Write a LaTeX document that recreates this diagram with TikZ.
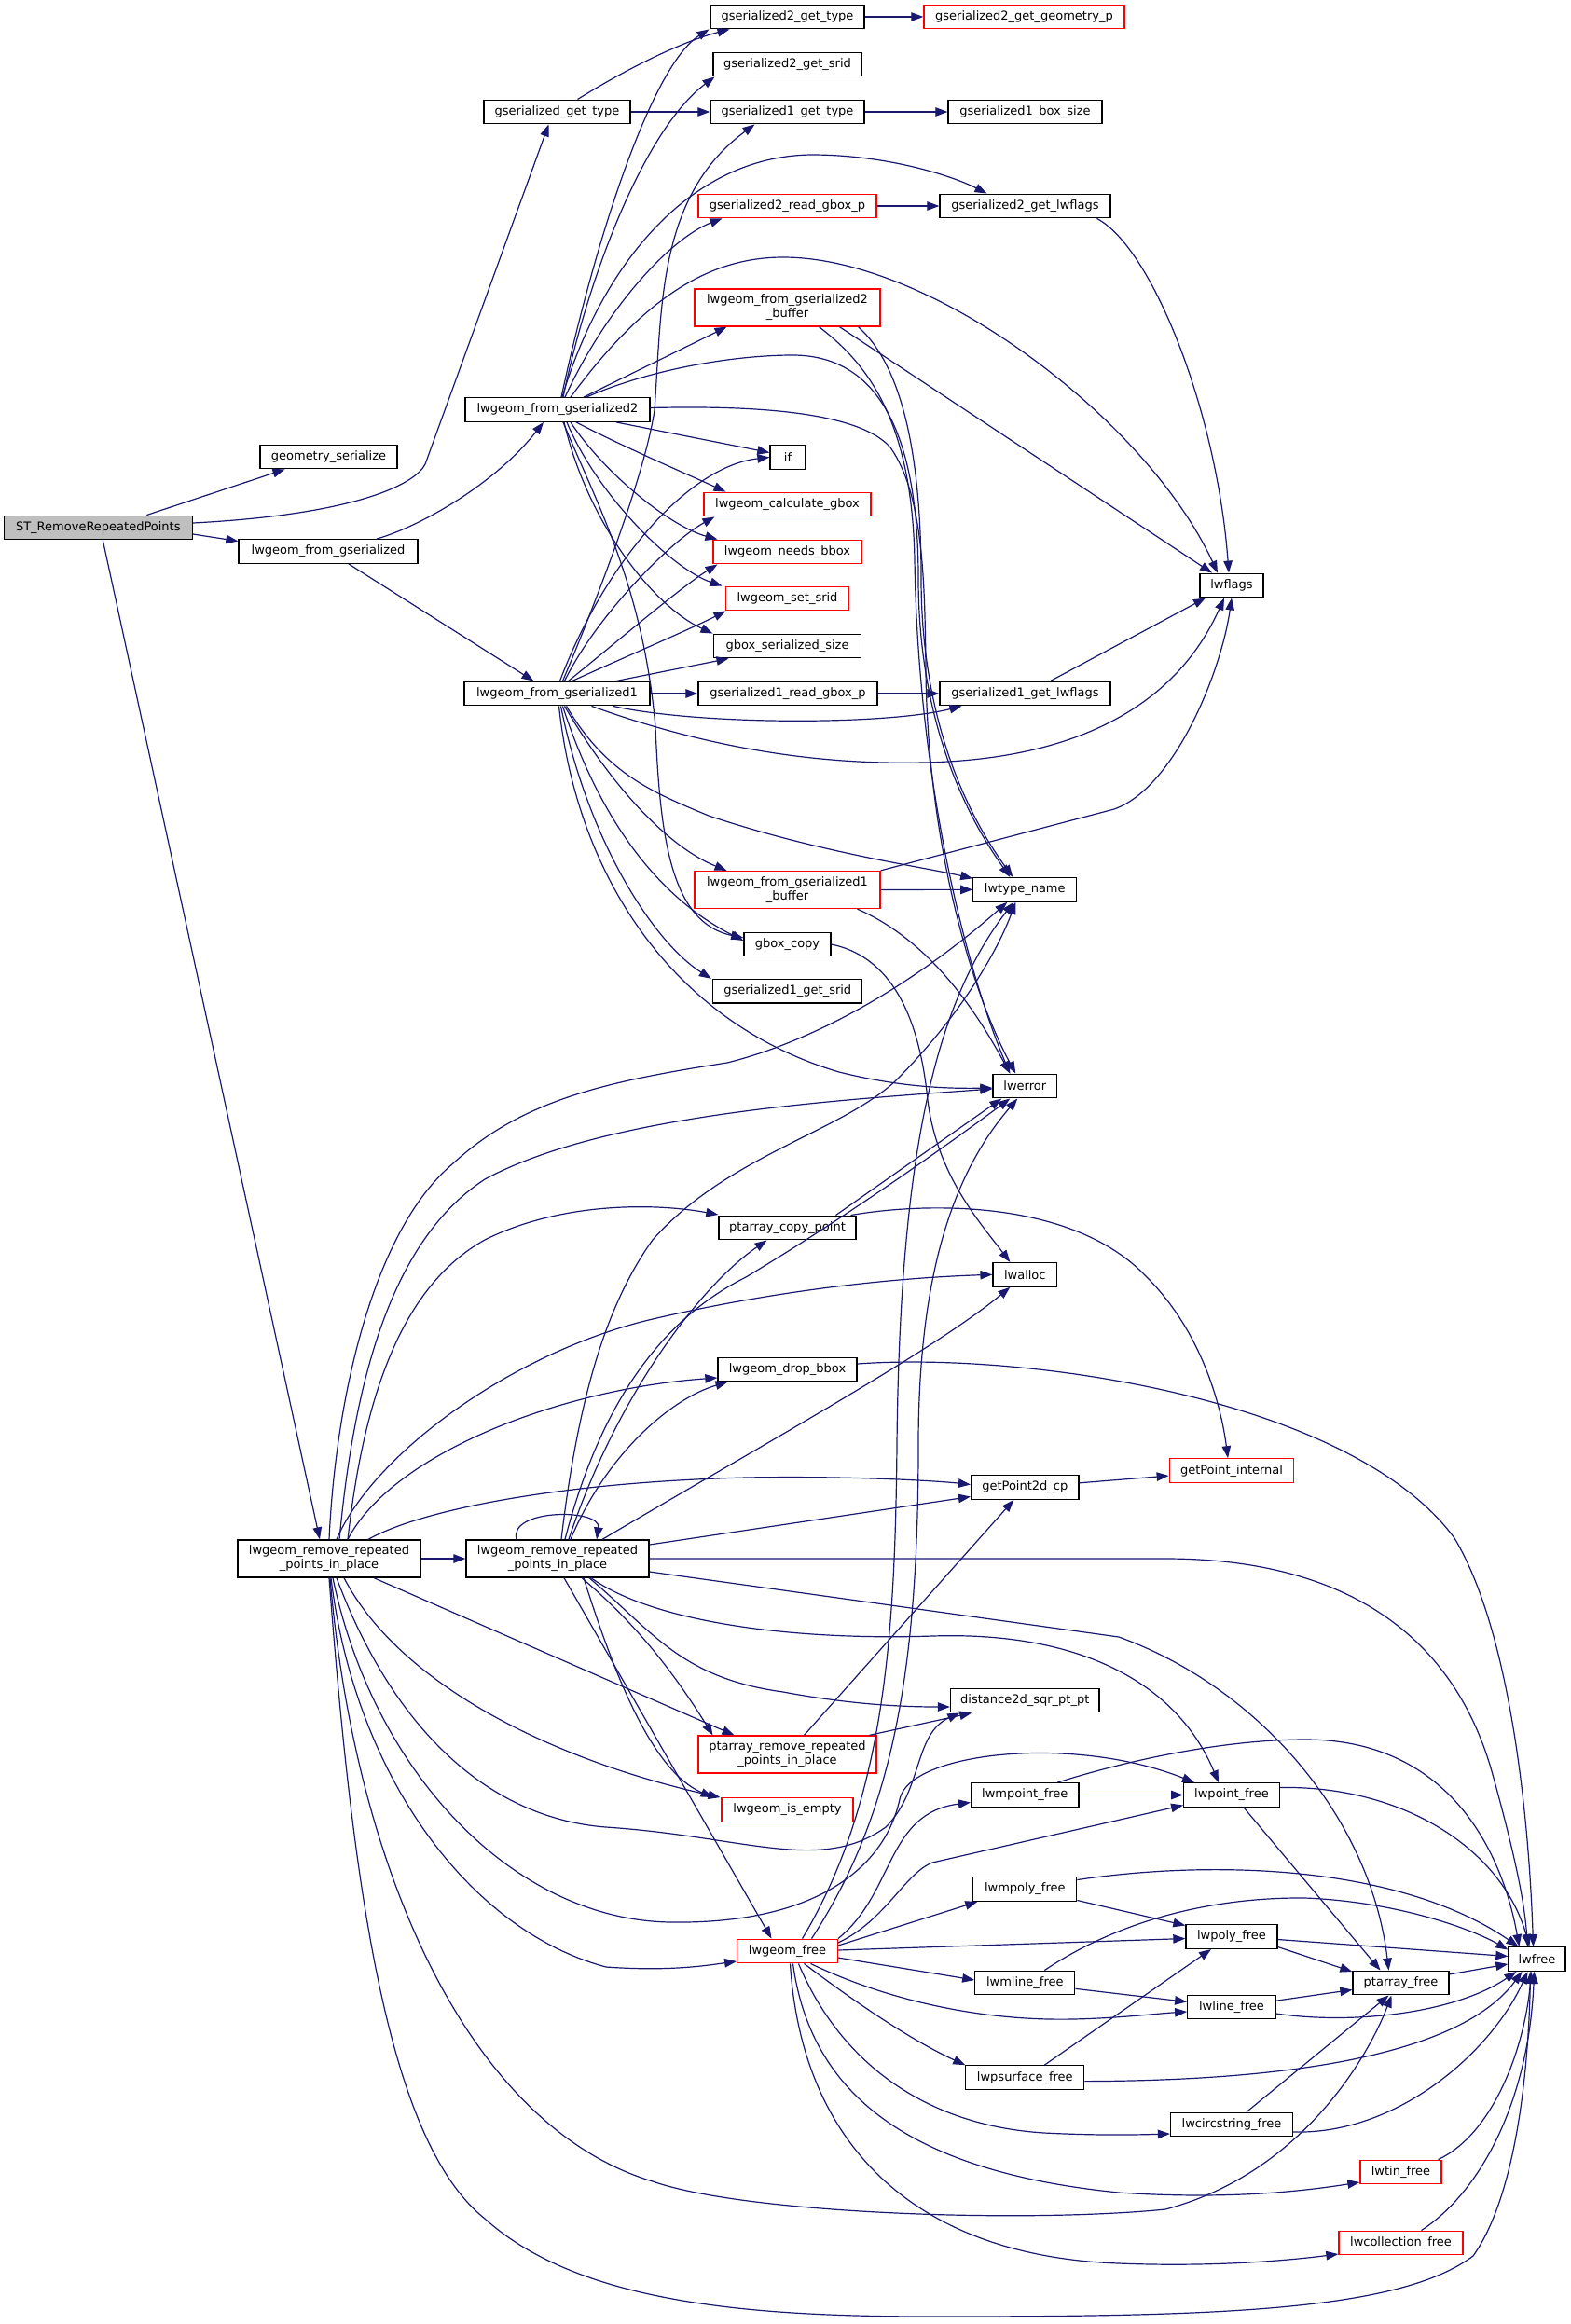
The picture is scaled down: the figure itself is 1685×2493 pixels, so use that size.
\documentclass[tikz,border=0pt]{standalone}
\usepackage{fontspec}
\setmainfont{DejaVu Sans}
\usetikzlibrary{arrows.meta}
\definecolor{edgeblue}{HTML}{191970}
\definecolor{stgray}{HTML}{BFBFBF}
\begin{document}
\begin{tikzpicture}[x=1pt,y=-1pt,
  nd/.style={draw=black,line width=1.3pt,fill=white,inner sep=0pt,minimum height=25.6pt,font=\fontsize{13}{15}\selectfont,align=center},
  rd/.style={nd,draw=red},
  twol/.style={minimum height=40pt},
  edg/.style={draw=edgeblue,line width=1.2pt,-{Triangle[length=13pt,width=9.5pt]}}]
\fill[white] (0,0) rectangle (1685,2493);
\path[use as bounding box] (0,0) rectangle (1685,2493);
% nodes
\node[nd,fill=stgray,minimum width=202pt] (ST) at (105.3,566) {ST\_RemoveRepeatedPoints};
\node[nd,minimum width=147pt] (gs) at (352.5,490) {geometry\_serialize};
\node[nd,minimum width=157pt] (ggt) at (597.5,120) {gserialized\_get\_type};
\node[nd,minimum width=198pt] (lfg2) at (598,439.5) {lwgeom\_from\_gserialized2};
\node[nd,minimum width=192pt] (lfg) at (352,591.5) {lwgeom\_from\_gserialized};
\node[nd,minimum width=165pt] (g2gt) at (844.5,18) {gserialized2\_get\_type};
\node[rd,minimum width=215pt] (g2geom) at (1098.5,18) {gserialized2\_get\_geometry\_p};
\node[nd,minimum width=159pt] (g2srid) at (844.5,69) {gserialized2\_get\_srid};
\node[nd,minimum width=165pt] (g1gt) at (844.5,120) {gserialized1\_get\_type};
\node[nd,minimum width=165pt] (g1box) at (1099.5,120) {gserialized1\_box\_size};
\node[rd,minimum width=191pt] (g2read) at (844.5,221) {gserialized2\_read\_gbox\_p};
\node[nd,minimum width=183pt] (g2lwf) at (1099.5,221) {gserialized2\_get\_lwflags};
\node[rd,twol,minimum width=199pt] (lfg2buf) at (844.5,330) {lwgeom\_from\_gserialized2\\\_buffer};
\node[nd,minimum width=38pt] (iff) at (845,490.5) {if};
\node[rd,minimum width=179pt] (calc) at (844.5,541) {lwgeom\_calculate\_gbox};
\node[rd,minimum width=159pt] (needs) at (844.5,592) {lwgeom\_needs\_bbox};
\node[rd,minimum width=131.5pt] (srid) at (844.5,642) {lwgeom\_set\_srid};
\node[nd,minimum width=157.5pt] (gss) at (844.5,693) {gbox\_serialized\_size};
\node[nd,minimum width=68pt] (lwflags) at (1321,628) {lwflags};
\node[nd,minimum width=199pt] (lfg1) at (597.5,744) {lwgeom\_from\_gserialized1};
\node[nd,minimum width=192pt] (g1read) at (845,744) {gserialized1\_read\_gbox\_p};
\node[nd,minimum width=183pt] (g1lwf) at (1099.5,744) {gserialized1\_get\_lwflags};
\node[rd,twol,minimum width=199pt] (lfg1buf) at (844.5,954.5) {lwgeom\_from\_gserialized1\\\_buffer};
\node[nd,minimum width=111pt] (lwtype) at (1099.3,954.3) {lwtype\_name};
\node[nd,minimum width=93pt] (gbc) at (844.5,1013) {gbox\_copy};
\node[nd,minimum width=160pt] (g1srid) at (844.8,1063.3) {gserialized1\_get\_srid};
\node[nd,minimum width=68.5pt] (lwerror) at (1099.3,1165) {lwerror};
\node[nd,minimum width=147pt] (ptcopy) at (844.5,1317) {ptarray\_copy\_point};
\node[nd,minimum width=68.5pt] (lwalloc) at (1099.3,1367.3) {lwalloc};
\node[nd,minimum width=149pt] (dropbb) at (844.5,1469) {lwgeom\_drop\_bbox};
\node[nd,minimum width=115.5pt] (gp2d) at (1099.3,1595.5) {getPoint2d\_cp};
\node[rd,minimum width=133.5pt] (gpi) at (1321,1577.6) {getPoint\_internal};
\node[nd,twol,minimum width=196pt] (L) at (353,1672) {lwgeom\_remove\_repeated\\\_points\_in\_place};
\node[nd,twol,minimum width=196pt] (R) at (598,1672) {lwgeom\_remove\_repeated\\\_points\_in\_place};
\node[nd,minimum width=159.5pt] (dist) at (1099.3,1824) {distance2d\_sqr\_pt\_pt};
\node[rd,twol,minimum width=191pt] (ptrem) at (844.5,1882) {ptarray\_remove\_repeated\\\_points\_in\_place};
\node[rd,minimum width=141pt] (isempty) at (844.5,1941.5) {lwgeom\_is\_empty};
\node[nd,minimum width=115.5pt] (lwmpoint) at (1099.3,1925.5) {lwmpoint\_free};
\node[nd,minimum width=102.5pt] (lwpoint) at (1321,1925.5) {lwpoint\_free};
\node[nd,minimum width=111pt] (lwmpoly) at (1099.3,2026.5) {lwmpoly\_free};
\node[nd,minimum width=98pt] (lwpoly) at (1321,2077.5) {lwpoly\_free};
\node[rd,minimum width=107.5pt] (lwgfree) at (844.5,2093) {lwgeom\_free};
\node[nd,minimum width=61pt] (lwfree) at (1648.5,2101.5) {lwfree};
\node[nd,minimum width=103pt] (ptfree) at (1502.5,2127) {ptarray\_free};
\node[nd,minimum width=107pt] (lwmline) at (1099.3,2127) {lwmline\_free};
\node[nd,minimum width=94.5pt] (lwline) at (1321,2153) {lwline\_free};
\node[nd,minimum width=127pt] (lwpsurf) at (1099.3,2228.6) {lwpsurface\_free};
\node[nd,minimum width=131pt] (lwcirc) at (1321,2279) {lwcircstring\_free};
\node[rd,minimum width=87pt] (lwtin) at (1502.5,2330) {lwtin\_free};
\node[rd,minimum width=133pt] (lwcoll) at (1502.5,2406) {lwcollection\_free};
% ST edges
\draw[edg] ([xshift=52]ST.north) -- ([xshift=-47]gs.south);
\draw[edg] ([yshift=5]ST.east) .. controls (380,552) and (445,520) .. (456,498) -- ([xshift=-9]ggt.south);
\draw[edg] ([yshift=-7]ST.east) -- ([yshift=11]lfg.west);
\draw[edg] ([xshift=5]ST.south) -- ([xshift=-10]L.north);
% lwgeom_from_gserialized
\draw[edg] ([xshift=52]lfg.north) .. controls (450,565) and (530,520) .. ([xshift=-15]lfg2.south);
\draw[edg] ([xshift=22]lfg.south) -- ([xshift=-25]lfg1.north);
% gserialized_get_type etc.
\draw[edg] ([xshift=22]ggt.north) .. controls (670,75) and (730,45) .. ([xshift=-62]g2gt.south);
\draw[edg] (ggt) -- (g1gt);
\draw[edg] (g2gt) -- (g2geom);
\draw[edg] (g1gt) -- (g1box);
\draw[edg] (g2read) -- (g2lwf);
\draw[edg] (g1read) -- (g1lwf);
\draw[edg] ([xshift=77]g2lwf.south) .. controls (1235,265) and (1305,440) .. ([xshift=-3]lwflags.north);
\draw[edg] ([xshift=27]g1lwf.north) -- ([xshift=-28]lwflags.south);
% lwgeom_from_gserialized2
\draw[edg] ([xshift=4]lfg2.north) .. controls (640,250) and (700,70) .. ([xshift=-84]g2gt.south);
\draw[edg] ([xshift=6]lfg2.north) .. controls (630,300) and (690,140) .. ([xshift=-78]g2srid.south);
\draw[edg] ([xshift=5]lfg2.north) .. controls (640,300) and (730,168) .. (870,166) .. controls (950,166) and (1020,188) .. ([xshift=-41]g2lwf.north);
\draw[edg] ([xshift=8]lfg2.north) .. controls (650,330) and (720,255) .. ([xshift=-70]g2read.south);
\draw[edg] ([xshift=14]lfg2.north) .. controls (690,320) and (760,276) .. (840,276) .. controls (1000,276) and (1230,450) .. ([xshift=-15]lwflags.north);
\draw[edg] ([xshift=28]lfg2.north) -- ([xshift=-65]lfg2buf.south);
\draw[edg] ([xshift=31]lfg2.north) .. controls (700,395) and (790,381) .. (850,381) .. controls (950,381) and (985,480) .. (985,620) .. controls (985,780) and (1040,880) .. ([xshift=-16]lwtype.north);
\draw[edg] ([yshift=2]lfg2.east) .. controls (800,435) and (920,440) .. (955,480) .. controls (990,530) and (992,620) .. (993,720) .. controls (995,900) and (1040,1060) .. ([xshift=-10]lwerror.north);
\draw[edg] ([xshift=63]lfg2.south) -- ([yshift=5]iff.west);
\draw[edg] ([xshift=20]lfg2.south) .. controls (670,480) and (740,510) .. ([xshift=-66]calc.north);
\draw[edg] ([xshift=14]lfg2.south) .. controls (650,510) and (720,565) .. ([xshift=-75]needs.north);
\draw[edg] ([xshift=10]lfg2.south) .. controls (640,530) and (720,610) .. ([xshift=-70]srid.north);
\draw[edg] ([xshift=7]lfg2.south) .. controls (630,560) and (700,650) .. ([xshift=-80]gss.north);
\draw[edg] ([xshift=6]lfg2.south) .. controls (640,540) and (690,630) .. (703,780) .. controls (708,900) and (720,990) .. ([yshift=7]gbc.west);
% lwgeom_from_gserialized2_buffer
\draw[edg] ([xshift=56]lfg2buf.south) -- ([xshift=-21]lwflags.north);
\draw[edg] ([xshift=76]lfg2buf.south) .. controls (965,390) and (988,480) .. (988,620) .. controls (988,780) and (1042,880) .. ([xshift=-13]lwtype.north);
\draw[edg] ([xshift=34]lfg2buf.south) .. controls (930,390) and (978,450) .. (981,600) .. controls (985,850) and (1040,1050) .. ([xshift=-16]lwerror.north);
% lwgeom_from_gserialized1
\draw[edg] ([xshift=6]lfg1.north) .. controls (625,680) and (690,520) .. (702,440) .. controls (710,330) and (705,210) .. ([xshift=-35]g1gt.south);
\draw[edg] ([xshift=3]lfg1.north) .. controls (650,600) and (740,500) .. (iff.west);
\draw[edg] ([xshift=8]lfg1.north) .. controls (640,660) and (720,580) .. ([xshift=-78]calc.south);
\draw[edg] ([xshift=12]lfg1.north) .. controls (660,690) and (730,630) .. ([xshift=-75]needs.south);
\draw[edg] ([xshift=16]lfg1.north) .. controls (670,705) and (740,675) .. ([xshift=-66]srid.south);
\draw[edg] ([xshift=63]lfg1.north) -- ([xshift=-63]gss.south);
\draw[edg] (lfg1) -- (g1read);
\draw[edg] ([xshift=60]lfg1.south) .. controls (750,778) and (950,778) .. ([xshift=-68]g1lwf.south);
\draw[edg] ([xshift=37]lfg1.south) .. controls (780,810) and (900,820) .. (990,818) .. controls (1150,815) and (1260,760) .. ([xshift=-8]lwflags.south);
\draw[edg] ([xshift=10]lfg1.south) .. controls (650,830) and (700,850) .. (760,875) .. controls (880,915) and (990,930) .. ([yshift=12]lwtype.west);
\draw[edg] ([xshift=8]lfg1.south) .. controls (660,850) and (720,910) .. ([xshift=-65]lfg1buf.north);
\draw[edg] ([xshift=6]lfg1.south) .. controls (640,870) and (700,960) .. ([yshift=4]gbc.west);
\draw[edg] ([xshift=4]lfg1.south) .. controls (630,900) and (700,1010) .. ([xshift=-82]g1srid.north);
\draw[edg] ([xshift=2]lfg1.south) .. controls (620,950) and (730,1100) .. (900,1150) .. controls (960,1165) and (1010,1168) .. ([yshift=-2]lwerror.west);
% lwgeom_from_gserialized1_buffer
\draw[edg] (lfg1buf) -- (lwtype);
\draw[edg] (lfg1buf.north east) -- (1195,868) .. controls (1260,845) and (1310,720) .. (lwflags.south);
\draw[edg] ([xshift=75]lfg1buf.south) .. controls (1000,1010) and (1050,1090) .. ([xshift=-16]lwerror.north);
% gbox_copy, ptarray_copy_point, drop_bbox, getPoint2d_cp
\draw[edg] (gbc.east) .. controls (950,1025) and (985,1080) .. (995,1180) .. controls (1005,1260) and (1050,1310) .. ([xshift=-16]lwalloc.north);
\draw[edg] ([xshift=52]ptcopy.north) -- ([xshift=-25]lwerror.south);
\draw[edg] ([xshift=68]ptcopy.north) .. controls (990,1290) and (1150,1285) .. (1230,1370) .. controls (1290,1430) and (1310,1510) .. ([xshift=-4]gpi.north);
\draw[edg] ([yshift=6]dropbb.east) .. controls (1100,1450) and (1450,1500) .. (1560,1650) .. controls (1620,1750) and (1640,1950) .. ([xshift=-4]lwfree.north);
\draw[edg] (gp2d) -- (gpi);
% left lwgeom_remove_repeated_points_in_place
\draw[edg] (L.north) .. controls (360,1500) and (400,1320) .. (486,1248) .. controls (560,1180) and (650,1160) .. (780,1140) .. controls (900,1110) and (1010,1030) .. ([xshift=-19]lwtype.south);
\draw[edg] ([xshift=11]L.north) .. controls (380,1480) and (420,1330) .. (520,1265) .. controls (650,1195) and (900,1180) .. ([yshift=-3]lwerror.west);
\draw[edg] ([xshift=20]L.north) .. controls (390,1500) and (430,1380) .. (520,1330) .. controls (600,1290) and (700,1290) .. ([yshift=14]ptcopy.west);
\draw[edg] ([xshift=8]L.north) .. controls (400,1560) and (550,1450) .. (700,1415) .. controls (850,1380) and (980,1370) .. (lwalloc.west);
\draw[edg] ([xshift=20]L.north) .. controls (420,1560) and (600,1490) .. ([yshift=-9]dropbb.west);
\draw[edg] ([xshift=42]L.north) .. controls (450,1620) and (600,1590) .. (800,1585) .. controls (900,1583) and (1000,1588) .. ([yshift=3]gp2d.west);
\draw[edg] (L) -- (R);
\draw[edg] ([xshift=48]L.south) -- ([xshift=-57]ptrem.north);
\draw[edg] ([xshift=16]L.south) .. controls (430,1810) and (600,1890) .. ([xshift=-72]isempty.north);
\draw[edg] ([xshift=8]L.south) .. controls (420,1850) and (520,1950) .. (650,1960) .. controls (800,1970) and (880,2010) .. (950,1960) .. controls (990,1920) and (980,1860) .. ([xshift=-70]dist.south);
\draw[edg] ([xshift=4]L.south) .. controls (400,1900) and (550,2060) .. (720,2062) .. controls (880,2064) and (950,2000) .. (965,1930) .. controls (975,1880) and (1150,1860) .. ([xshift=-40]lwpoint.north);
\draw[edg] ([xshift=2]L.south) .. controls (380,1900) and (500,2070) .. (650,2110) .. controls (720,2115) and (760,2108) .. ([yshift=-11]lwgfree.west);
\draw[edg] ([xshift=1]L.south) .. controls (380,2000) and (500,2280) .. (700,2340) .. controls (800,2375) and (1100,2385) .. (1250,2370) .. controls (1400,2330) and (1470,2200) .. ([xshift=-10]ptfree.south);
\draw[edg] (L.south) .. controls (380,2050) and (420,2300) .. (520,2380) .. controls (620,2470) and (800,2485) .. (1000,2485) .. controls (1300,2485) and (1500,2480) .. (1580,2420) .. controls (1630,2350) and (1640,2200) .. ([xshift=-7]lwfree.south);
% right lwgeom_remove_repeated_points_in_place
\draw[edg] ([xshift=-44]R.north) .. controls (545,1618) and (645,1618) .. ([xshift=42]R.north);
\draw[edg] ([xshift=4]R.north) .. controls (620,1500) and (650,1400) .. (700,1330) .. controls (780,1240) and (900,1215) .. (960,1160) .. controls (1030,1090) and (1070,1020) .. ([xshift=-10]lwtype.south);
\draw[edg] ([xshift=8]R.north) .. controls (640,1520) and (700,1420) .. (800,1370) .. controls (900,1310) and (1000,1240) .. ([xshift=-16]lwerror.south);
\draw[edg] ([xshift=12]R.north) .. controls (660,1500) and (750,1380) .. ([xshift=-22]ptcopy.south);
\draw[edg] ([xshift=48]R.north) .. controls (800,1560) and (1000,1450) .. ([xshift=-16]lwalloc.south);
\draw[edg] ([xshift=14]R.north) .. controls (650,1560) and (720,1500) .. ([xshift=-64]dropbb.south);
\draw[edg] ([yshift=15]R.east) -- ([yshift=-10]gp2d.west);
\draw[edg] (R.east) -- (1250,1672) .. controls (1450,1672) and (1560,1760) .. (1600,1900) .. controls (1625,1990) and (1635,2040) .. ([xshift=-10]lwfree.north);
\draw[edg] ([yshift=-14]R.east) -- (1200,1756) .. controls (1350,1810) and (1470,1950) .. ([xshift=-13]ptfree.north);
\draw[edg] ([xshift=36]R.south) .. controls (700,1740) and (850,1760) .. (1000,1755) .. controls (1150,1750) and (1260,1800) .. ([xshift=-14]lwpoint.north);
\draw[edg] ([xshift=34]R.south) .. controls (700,1750) and (730,1800) .. (840,1815) .. controls (920,1830) and (980,1831) .. ([yshift=-7]dist.west);
\draw[edg] ([xshift=26]R.south) .. controls (680,1740) and (720,1790) .. ([xshift=-80]ptrem.north);
\draw[edg] ([xshift=28]R.south) .. controls (660,1800) and (700,1900) .. ([xshift=-80]isempty.north);
\draw[edg] ([xshift=7]R.south) -- ([xshift=-17]lwgfree.north);
% ptarray_remove_repeated_points_in_place
\draw[edg] ([xshift=18]ptrem.north) -- ([xshift=-12]gp2d.south);
\draw[edg] ([xshift=88]ptrem.north) -- ([xshift=-57]dist.south);
% lwgeom_free
\draw[edg] ([xshift=16]lwgfree.north) .. controls (950,1930) and (960,1750) .. (962,1550) .. controls (965,1250) and (1000,1080) .. ([xshift=-12]lwtype.south);
\draw[edg] ([xshift=26]lwgfree.north) .. controls (955,1950) and (985,1800) .. (985,1550) .. controls (985,1350) and (1030,1250) .. ([xshift=-8]lwerror.south);
\draw[edg] (lwgfree.north east) .. controls (960,2030) and (950,1945) .. ([yshift=-8]lwmpoint.west);
\draw[edg] ([yshift=9]lwgfree.east) .. controls (950,2060) and (970,2010) .. (1000,1998) -- ([yshift=-11]lwpoint.west);
\draw[edg] ([yshift=6]lwgfree.east) -- ([xshift=-51]lwmpoly.south);
\draw[edg] ([yshift=1]lwgfree.east) -- ([yshift=-2]lwpoly.west);
\draw[edg] ([yshift=-7]lwgfree.east) -- ([yshift=3]lwmline.west);
\draw[edg] ([xshift=25]lwgfree.south) .. controls (950,2145) and (1050,2168) .. (1150,2166) .. controls (1200,2165) and (1240,2160) .. ([yshift=-5]lwline.west);
\draw[edg] ([xshift=18]lwgfree.south) .. controls (920,2150) and (980,2190) .. ([xshift=-64]lwpsurf.north);
\draw[edg] ([xshift=12]lwgfree.south) .. controls (900,2210) and (990,2280) .. (1120,2288) .. controls (1180,2291) and (1220,2290) .. ([yshift=-10]lwcirc.west);
\draw[edg] ([xshift=6]lwgfree.south) .. controls (870,2250) and (980,2330) .. (1200,2352) .. controls (1320,2360) and (1400,2350) .. ([yshift=-11]lwtin.west);
\draw[edg] ([xshift=3]lwgfree.south) .. controls (860,2300) and (980,2420) .. (1200,2428) .. controls (1300,2432) and (1380,2425) .. ([yshift=-12]lwcoll.west);
% free functions
\draw[edg] (lwmpoint) -- (lwpoint);
\draw[edg] ([xshift=35]lwmpoint.north) .. controls (1220,1885) and (1320,1866) .. (1400,1866) .. controls (1550,1866) and (1610,1980) .. ([xshift=-19]lwfree.north);
\draw[edg] ([yshift=8]lwpoint.east) .. controls (1500,1915) and (1610,1980) .. ([xshift=-8]lwfree.north);
\draw[edg] ([xshift=13]lwpoint.south) -- ([xshift=-22]ptfree.north);
\draw[edg] ([yshift=10]lwmpoly.east) .. controls (1300,1995) and (1500,2000) .. ([xshift=-20]lwfree.north);
\draw[edg] ([yshift=-12]lwmpoly.east) -- ([yshift=12]lwpoly.west);
\draw[edg] ([yshift=-3]lwpoly.east) -- ([yshift=3]lwfree.west);
\draw[edg] ([yshift=-11]lwpoly.east) -- ([yshift=12]ptfree.west);
\draw[edg] (lwmline) -- (lwline);
\draw[edg] ([xshift=21]lwmline.north) .. controls (1200,2060) and (1300,2035) .. (1400,2036) .. controls (1500,2040) and (1580,2070) .. ([yshift=10]lwfree.west);
\draw[edg] (ptfree) -- (lwfree);
\draw[edg] (lwline) -- (ptfree);
\draw[edg] ([yshift=-7]lwline.east) .. controls (1450,2172) and (1560,2160) .. ([xshift=-22]lwfree.south);
\draw[edg] ([xshift=21]lwpsurf.north) -- ([xshift=-22]lwpoly.south);
\draw[edg] ([yshift=-4]lwpsurf.east) .. controls (1400,2232) and (1570,2200) .. ([xshift=-16]lwfree.south);
\draw[edg] ([xshift=16]lwcirc.north) -- ([xshift=-13]ptfree.south);
\draw[edg] ([yshift=-8]lwcirc.east) .. controls (1500,2290) and (1600,2200) .. ([xshift=-10]lwfree.south);
\draw[edg] ([xshift=40]lwtin.north) .. controls (1600,2290) and (1635,2200) .. ([xshift=-6]lwfree.south);
\draw[edg] ([xshift=22]lwcoll.north) .. controls (1590,2350) and (1640,2250) .. ([xshift=-3]lwfree.south);
\end{tikzpicture}
\end{document}
